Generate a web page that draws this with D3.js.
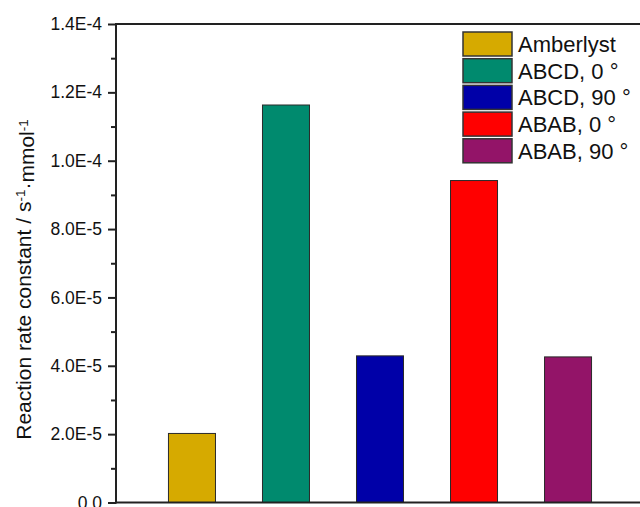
<!DOCTYPE html>
<html>
<head>
<meta charset="utf-8">
<script src="https://cdn.jsdelivr.net/npm/d3@7"></script>
<style>
  html, body { margin: 0; padding: 0; background: #fff; }
  svg { display: block; font-family: Arial, "Liberation Sans", sans-serif; }
</style>
</head>
<body>
<svg id="chart" width="640" height="507"></svg>
<script>
// Catalyst samples and their measured reaction rate constants (s^-1 mmol^-1)
const categories = ["Amberlyst", "ABCD, 0 °", "ABCD, 90 °", "ABAB, 0 °", "ABAB, 90 °"];
const rateConstants = [2.02e-5, 1.163e-4, 4.29e-5, 9.42e-5, 4.26e-5];
const barColors = ["#d6aa00", "#008a6e", "#0000a8", "#ff0000", "#931468"];
const yTicks = [0, 2e-5, 4e-5, 6e-5, 8e-5, 1e-4, 1.2e-4, 1.4e-4];
const yMinorTicks = [1e-5, 3e-5, 5e-5, 7e-5, 9e-5, 1.1e-4, 1.3e-4];

const svg = d3.select("#chart");
const plotLeft = 116, plotTop = 24, plotBottom = 502.5, plotRight = 644;

const x = d3.scaleBand()
  .domain(categories)
  .range([plotLeft, plotRight])
  .paddingInner(0.5)
  .paddingOuter(0.558);

const y = d3.scaleLinear().domain([0, 1.4e-4]).range([plotBottom, plotTop]);

const fmt = v => v === 0 ? "0.0" : v.toExponential(1).toUpperCase().replace("+", "");

// Bars
svg.append("g").selectAll("rect")
  .data(rateConstants)
  .join("rect")
  .attr("x", (d, i) => x(categories[i]))
  .attr("y", d => y(d))
  .attr("width", x.bandwidth())
  .attr("height", d => y(0) - y(d))
  .attr("fill", (d, i) => barColors[i])
  .attr("stroke", "#2a2a2a")
  .attr("stroke-width", 1);

// Left axis with outward ticks
const yAxis = svg.append("g")
  .attr("transform", `translate(${plotLeft},0)`)
  .call(d3.axisLeft(y).tickValues(yTicks).tickFormat(fmt).tickSize(8).tickPadding(6));
yAxis.select(".domain").remove();
yAxis.selectAll(".tick line").attr("stroke", "#222").attr("stroke-width", 2);
yAxis.selectAll(".tick text")
  .attr("fill", "#111")
  .style("font-size", "17.5px")
  .style("font-family", "Arial, 'Liberation Sans', sans-serif");

svg.append("g")
  .attr("transform", `translate(${plotLeft},0)`)
  .call(d3.axisLeft(y).tickValues(yMinorTicks).tickFormat("").tickSize(5))
  .call(g => g.select(".domain").remove())
  .selectAll(".tick line").attr("stroke", "#222").attr("stroke-width", 2);

// Frame lines: left, bottom, top
const frame = svg.append("g").attr("stroke", "#222").attr("stroke-width", 2).attr("fill", "none");
frame.append("line").attr("x1", plotLeft).attr("x2", plotLeft).attr("y1", plotTop - 1).attr("y2", plotBottom + 1);
frame.append("line").attr("x1", plotLeft - 1).attr("x2", 640).attr("y1", plotBottom).attr("y2", plotBottom);
frame.append("line").attr("x1", plotLeft - 1).attr("x2", 640).attr("y1", plotTop).attr("y2", plotTop);

// Y axis title
const title = svg.append("text")
  .attr("transform", `translate(31,${(112 + 447) / 2}) rotate(-90)`)
  .attr("text-anchor", "middle")
  .attr("fill", "#111")
  .style("font-size", "21px");
title.append("tspan").text("Reaction rate constant / s");
title.append("tspan").attr("dy", "-0.45em").style("font-size", "13.5px").text("-1");
title.append("tspan").attr("dy", "0.45em").text("·mmol");
title.append("tspan").attr("dy", "-0.45em").style("font-size", "13.5px").text("-1");

// Legend
const legend = svg.append("g").attr("transform", "translate(463,32)");
const items = legend.selectAll("g")
  .data(categories)
  .join("g")
  .attr("transform", (d, i) => `translate(0,${i * 26.7})`);
items.append("rect")
  .attr("width", 49)
  .attr("height", 24)
  .attr("fill", (d, i) => barColors[i])
  .attr("stroke", "#333")
  .attr("stroke-width", 1.5);
items.append("text")
  .attr("x", 55)
  .attr("y", 20)
  .attr("fill", "#111")
  .style("font-size", "22px")
  .text(d => d);
</script>
</body>
</html>
